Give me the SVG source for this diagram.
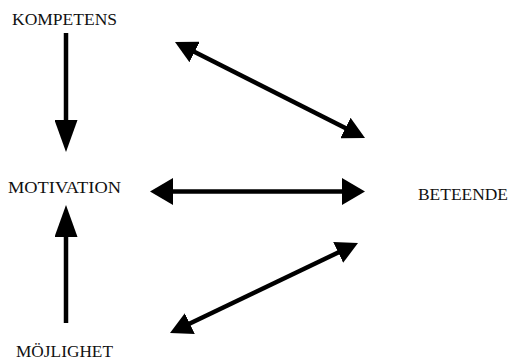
<svg xmlns="http://www.w3.org/2000/svg" width="510" height="360" viewBox="0 0 510 360">
  <style>
    .lbl { font-family: "Liberation Serif", "Times New Roman", serif; font-size: 17px; fill: #111; }
    .conn { stroke: #000; stroke-width: 4.5; fill: none; }
  </style>
  <defs>
    <marker id="hv" markerUnits="userSpaceOnUse" markerWidth="32" markerHeight="23" viewBox="0 0 32 23" refX="16" refY="11.5" orient="auto-start-reverse">
      <path d="M0,0 L32,11.5 L0,23 z" fill="#000"/>
    </marker>
    <marker id="hh" markerUnits="userSpaceOnUse" markerWidth="23" markerHeight="27" viewBox="0 0 23 27" refX="11.5" refY="13.5" orient="auto-start-reverse">
      <path d="M0,0 L23,13.5 L0,27 z" fill="#000"/>
    </marker>
    <marker id="hd" markerUnits="userSpaceOnUse" markerWidth="22" markerHeight="23" viewBox="0 0 22 23" refX="11" refY="11.5" orient="auto-start-reverse">
      <path d="M0,0 L22,11.5 L0,23 z" fill="#000"/>
    </marker>
  </defs>
  <rect width="510" height="360" fill="#fff"/>
  <g id="connectors">
    <line class="conn" x1="66" y1="33" x2="66" y2="136" marker-end="url(#hv)"/>
    <line class="conn" x1="66" y1="323" x2="66" y2="221" marker-end="url(#hv)"/>
    <line class="conn" x1="161.5" y1="191.5" x2="353.5" y2="191.5" marker-start="url(#hh)" marker-end="url(#hh)"/>
    <line class="conn" x1="184.8" y1="47" x2="355.2" y2="133" marker-start="url(#hd)" marker-end="url(#hd)"/>
    <line class="conn" x1="348.1" y1="247.7" x2="179.9" y2="328.3" marker-start="url(#hd)" marker-end="url(#hd)"/>
  </g>
  <g id="kompetens"><text class="lbl" x="12" y="25" textLength="105" lengthAdjust="spacingAndGlyphs">KOMPETENS</text></g>
  <g id="motivation"><text class="lbl" x="8" y="193" textLength="113" lengthAdjust="spacingAndGlyphs">MOTIVATION</text></g>
  <g id="mojlighet"><text class="lbl" x="16" y="357" textLength="97" lengthAdjust="spacingAndGlyphs">MÖJLIGHET</text></g>
  <g id="beteende"><text class="lbl" x="418" y="200" textLength="90" lengthAdjust="spacingAndGlyphs">BETEENDE</text></g>
</svg>
